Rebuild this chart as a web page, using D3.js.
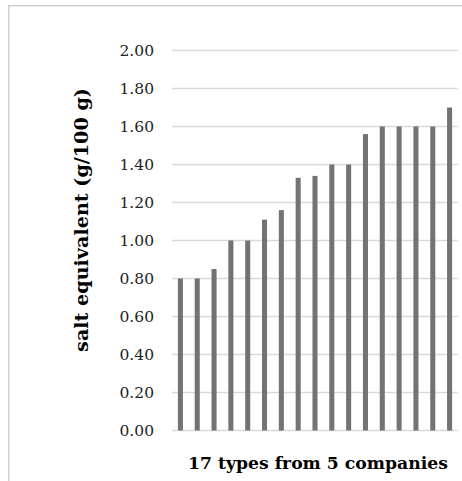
<!DOCTYPE html>
<html><head><meta charset="utf-8">
<script src="https://cdn.jsdelivr.net/npm/d3@7"></script>
<style>html,body{margin:0;background:#fff;overflow:hidden}svg{display:block}</style>
</head><body>
<script>
const categories = d3.range(1, 18).map(String);
const values = [0.80, 0.80, 0.85, 1.00, 1.00, 1.11, 1.16, 1.33, 1.34, 1.40, 1.40, 1.56, 1.60, 1.60, 1.60, 1.60, 1.70];
const yTicks = [0, 0.2, 0.4, 0.6, 0.8, 1.0, 1.2, 1.4, 1.6, 1.8, 2.0];
const xTitle = "17 types from 5 companies";
const yTitle = "salt equivalent (g/100 g)";

const W = 462, H = 481;
const svg = d3.select("body").append("svg").attr("width", W).attr("height", H);

// chart border (top and left visible)
svg.append("path").attr("d", `M8.75,${H}V5.75H${W}`)
  .attr("fill", "none").attr("stroke", "#d0d0d0").attr("stroke-width", 1.5);

const x = d3.scaleBand().domain(categories).range([172, 458]).paddingInner(0.7).paddingOuter(0.35);
const y = d3.scaleLinear().domain([0, 2]).range([430.5, 50.5]);

const yAxis = d3.axisLeft(y).tickValues(yTicks).tickFormat(d3.format(".2f")).tickSize(0).tickPadding(0);
const gy = svg.append("g").attr("transform", "translate(154,0)").call(yAxis);
gy.select(".domain").remove();
gy.selectAll("text").attr("font-family", "DejaVu Serif").attr("font-size", 15.5).attr("fill", "#222");

svg.append("g").selectAll("line").data(yTicks).join("line")
  .attr("x1", 172).attr("x2", 458).attr("y1", d => y(d)).attr("y2", d => y(d))
  .attr("stroke", "#d9d9d9").attr("stroke-width", 1.3);

svg.append("g").selectAll("rect").data(values).join("rect")
  .attr("x", (d, i) => x(categories[i])).attr("width", x.bandwidth())
  .attr("y", d => y(d)).attr("height", d => y(0) - y(d))
  .attr("fill", "#737373");

const xt = svg.append("text").attr("x", 318).attr("y", 469).attr("text-anchor", "middle")
  .attr("font-family", "DejaVu Serif").attr("font-weight", "bold").attr("font-size", 17)
  .attr("fill", "#000").text(xTitle);
const wx = xt.node().getComputedTextLength();
xt.attr("font-size", 17 * 260 / wx);

const yt = svg.append("text").attr("transform", "translate(88,220) rotate(-90)").attr("text-anchor", "middle")
  .attr("font-family", "DejaVu Serif").attr("font-weight", "bold").attr("font-size", 17)
  .attr("fill", "#000").text(yTitle);
const wy = yt.node().getComputedTextLength();
yt.attr("font-size", 17 * 264 / wy);
</script>
</body></html>
